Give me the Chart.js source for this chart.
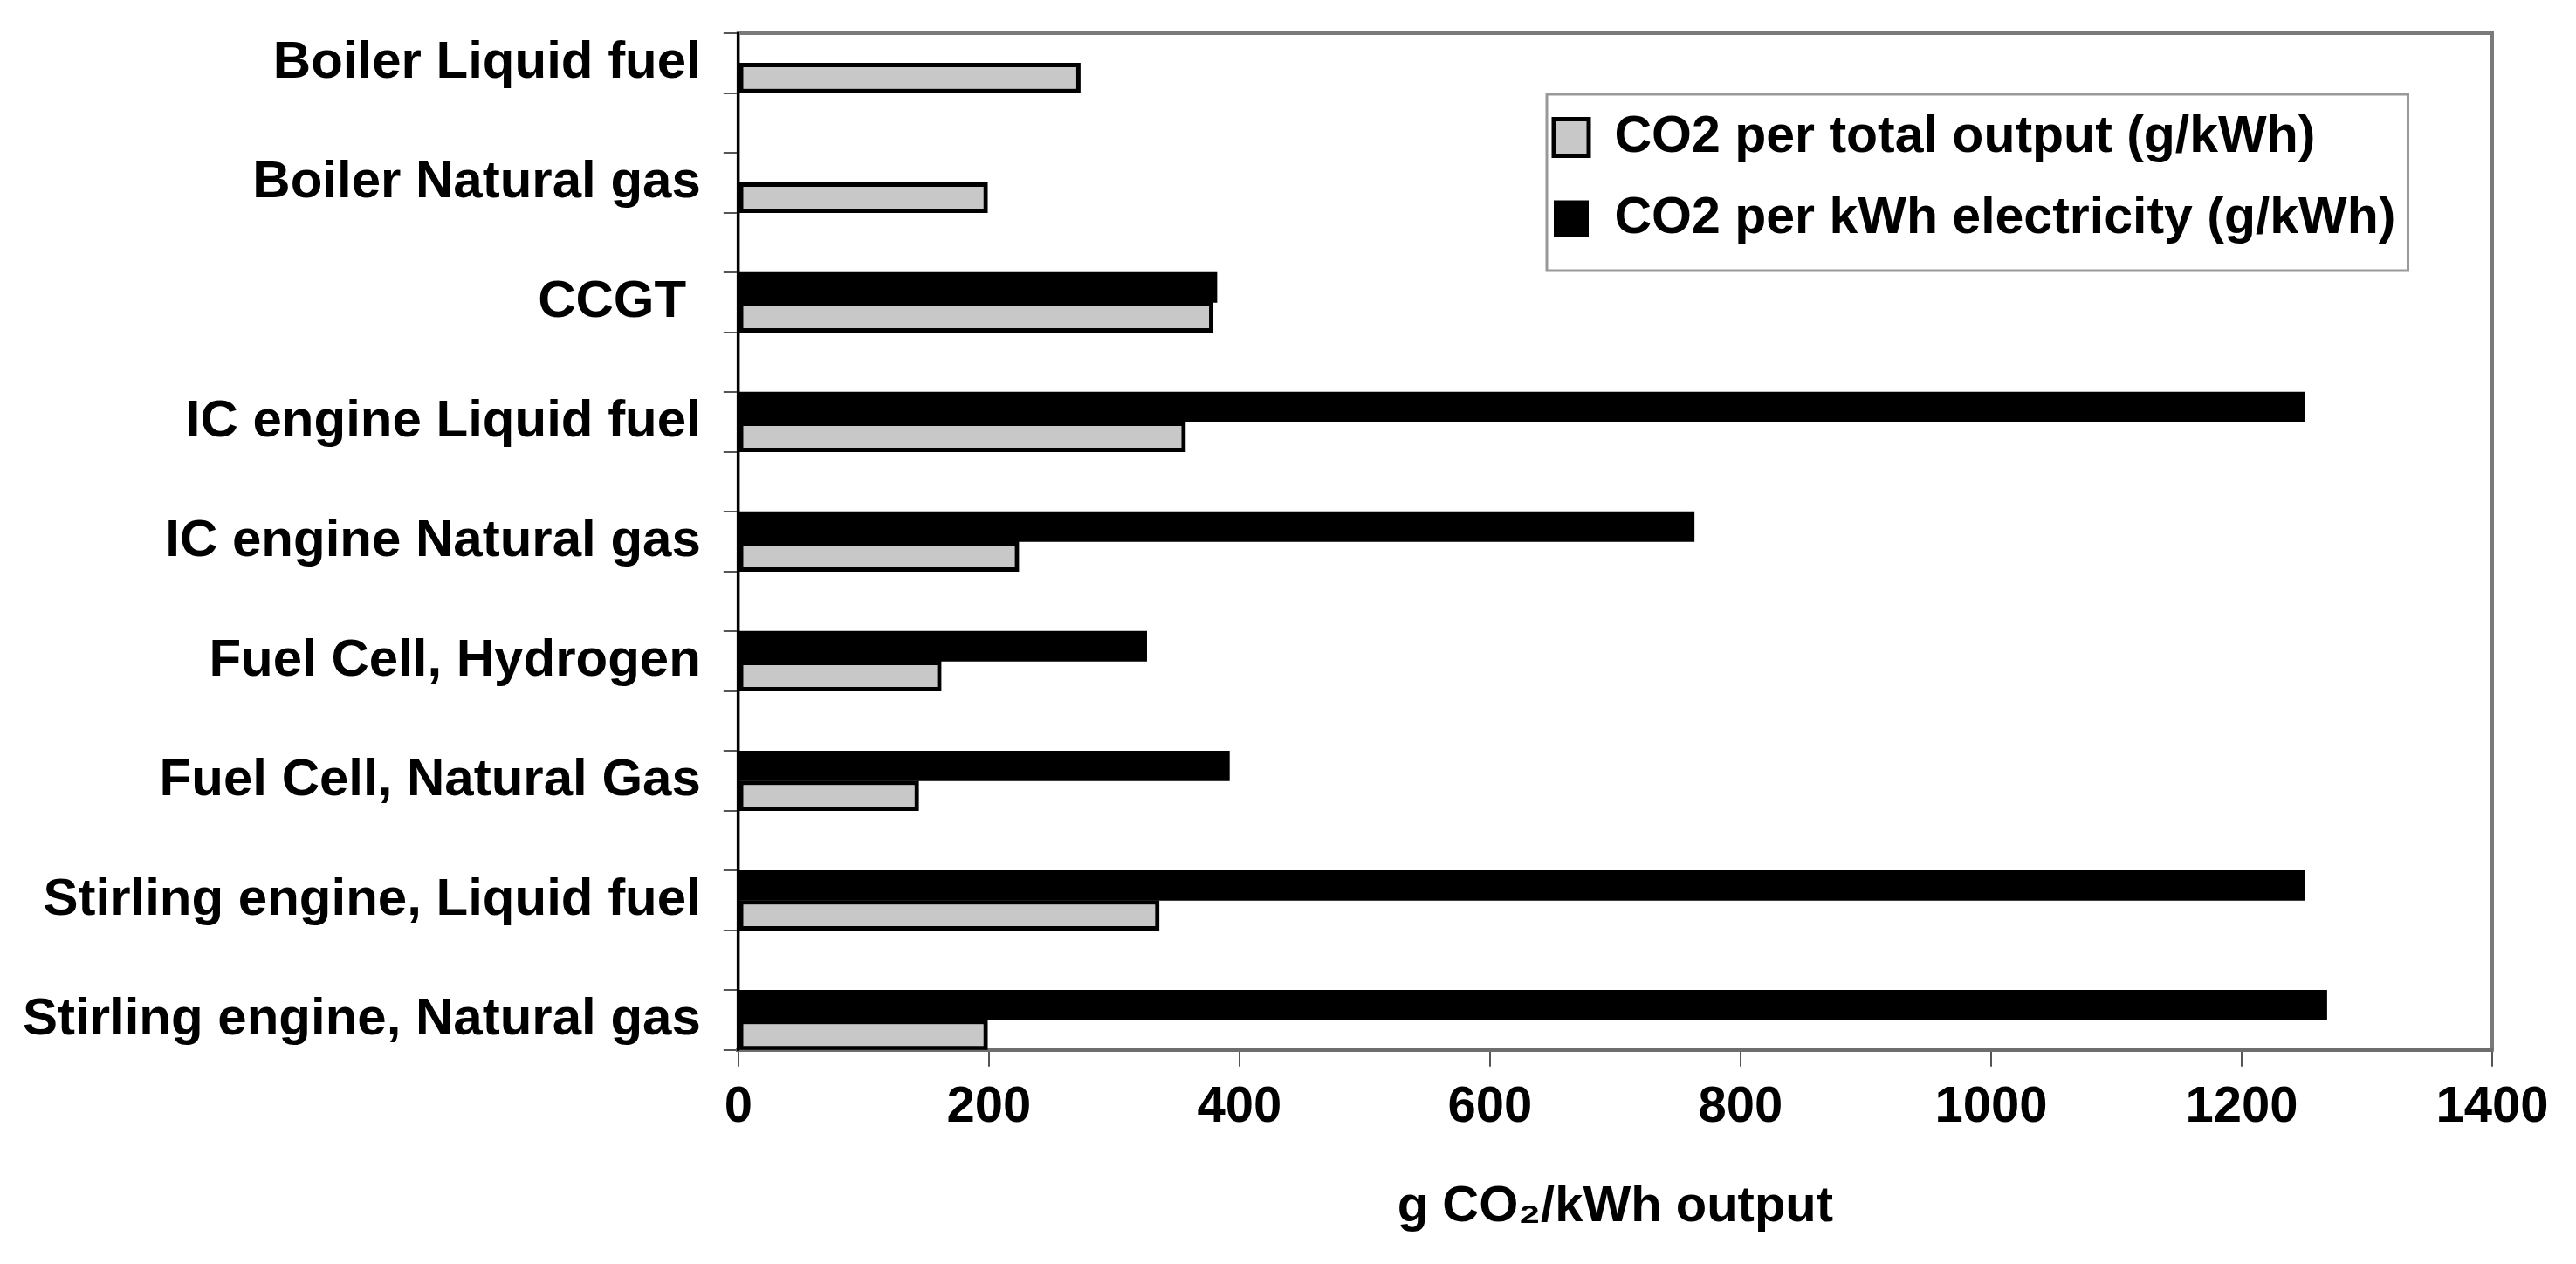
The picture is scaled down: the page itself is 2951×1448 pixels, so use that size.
<!DOCTYPE html>
<html>
<head>
<meta charset="utf-8">
<title>CO2 per kWh</title>
<script src="https://cdn.jsdelivr.net/npm/chart.js@4.4.1/dist/chart.umd.min.js"></script>
<style>
html, body { margin: 0; padding: 0; background: #fff; }
#wrap { width: 2951px; height: 1448px; position: relative; }
</style>
</head>
<body>
<div id="wrap"><canvas id="myChart"></canvas></div>
<script>
// data
var categories = [
    'Boiler Liquid fuel',
    'Boiler Natural gas',
    'CCGT ',
    'IC engine Liquid fuel',
    'IC engine Natural gas',
    'Fuel Cell, Hydrogen',
    'Fuel Cell, Natural Gas',
    'Stirling engine, Liquid fuel',
    'Stirling engine, Natural gas'
];
var totalOutput = [273, 199, 379, 357, 224, 162, 144, 336, 199];   // grey bars
var electricity = [null, null, 382, 1250, 763, 326, 392, 1250, 1268]; // black bars
var xTicks = [0, 200, 400, 600, 800, 1000, 1200, 1400];
var seriesNames = ['CO2 per total output (g/kWh)', 'CO2 per kWh electricity (g/kWh)'];
var xTitle = 'g CO\u2082/kWh output';

Chart.defaults.font.family = '"Liberation Sans", Arial, sans-serif';
Chart.defaults.font.weight = 'bold';
Chart.defaults.color = '#000';

function rows(values) {
    return categories.map(function (c, i) { return { x: values[i], y: i }; });
}

// grey frame round the plot area (drawn before the axes so they sit on top)
var frame = {
    id: 'frame',
    beforeDraw: function (chart) {
        var ca = chart.chartArea, ctx = chart.ctx;
        ctx.save();
        ctx.strokeStyle = '#7a7a7a';
        ctx.lineWidth = 4;
        ctx.strokeRect(ca.left, ca.top, ca.right - ca.left, ca.bottom - ca.top);
        ctx.restore();
    }
};

// move the legend to the upper right inside the plot and put a box round it
var legendSpot = {
    id: 'legendSpot',
    afterLayout: function (chart) {
        var lg = chart.legend, ca = chart.chartArea;
        lg.left = ca.right - 1109;
        lg.top = ca.top + 56;
        lg.right = lg.left + lg.width;
        lg.bottom = lg.top + lg.height;
    },
    afterDraw: function (chart) {
        var boxes = chart.legend.legendHitBoxes, ctx = chart.ctx;
        if (!boxes || !boxes.length) return;
        var l = Infinity, r = -Infinity, t = Infinity, b = -Infinity;
        boxes.forEach(function (h) {
            l = Math.min(l, h.left); r = Math.max(r, h.left + h.width);
            t = Math.min(t, h.top); b = Math.max(b, h.top + h.height);
        });
        ctx.save();
        ctx.strokeStyle = '#999';
        ctx.lineWidth = 3;
        ctx.strokeRect(l - 8, t - 20, r - l + 22, b - t + 50);
        ctx.restore();
    }
};

var ctx = document.getElementById('myChart');
var myChart = new Chart(ctx, {
    type: 'bar',
    data: {
        datasets: [{
            label: seriesNames[1],
            data: rows(electricity),
            backgroundColor: '#000',
            borderColor: '#000',
            borderWidth: 0
        }, {
            label: seriesNames[0],
            data: rows(totalOutput),
            backgroundColor: '#c8c8c8',
            borderColor: '#000',
            borderWidth: 5,
            borderSkipped: false
        }]
    },
    options: {
        indexAxis: 'y',
        responsive: true,
        maintainAspectRatio: false,
        animation: false,
        categoryPercentage: 1.0,
        barPercentage: 1.0,
        layout: { padding: { left: 0, top: 38, right: 96, bottom: 30 } },
        plugins: {
            tooltip: { enabled: false },
            legend: {
                position: 'chartArea',
                align: 'start',
                reverse: true,
                labels: {
                    boxWidth: 40,
                    boxHeight: 42,
                    padding: 34,
                    color: '#000',
                    font: { size: 59, weight: 'bold' }
                }
            }
        },
        scales: {
            x: {
                type: 'linear',
                min: 0,
                max: 1400,
                afterBuildTicks: function (s) { s.ticks = xTicks.map(function (v) { return { value: v }; }); },
                grid: { drawOnChartArea: false, tickLength: 19, color: '#555', lineWidth: 2 },
                border: { color: '#6e6e6e', width: 5 },
                ticks: {
                    font: { size: 58, weight: 'bold' },
                    color: '#000',
                    padding: 12,
                    callback: function (v) { return String(v); }
                },
                title: {
                    display: true,
                    text: xTitle,
                    color: '#000',
                    font: { size: 58, weight: 'bold' },
                    padding: { top: 33, bottom: 0 }
                }
            },
            // ticks sit on the top and bottom edge of every pair of bars,
            // the name goes on the top one and is pushed down a quarter step
            y: {
                type: 'linear',
                position: 'left',
                reverse: true,
                bounds: 'data',
                offset: false,
                min: -0.25,
                max: 8.25,
                afterBuildTicks: function (s) {
                    var t = [];
                    categories.forEach(function (c, i) { t.push({ value: i - 0.25 }, { value: i + 0.25 }); });
                    s.ticks = t;
                },
                afterFit: function (s) { s.paddingTop = 0; s.paddingBottom = 0; },
                grid: { offset: false, drawOnChartArea: false, tickLength: 17, color: '#555', lineWidth: 2 },
                border: { color: '#000', width: 3 },
                ticks: {
                    autoSkip: false,
                    labelOffset: 34,
                    callback: function (v, i) { return i % 2 === 0 ? categories[i / 2] : ''; },
                    font: { size: 60, weight: 'bold' },
                    color: '#000',
                    padding: 26
                }
            }
        }
    },
    plugins: [frame, legendSpot]
});
</script>
</body>
</html>
